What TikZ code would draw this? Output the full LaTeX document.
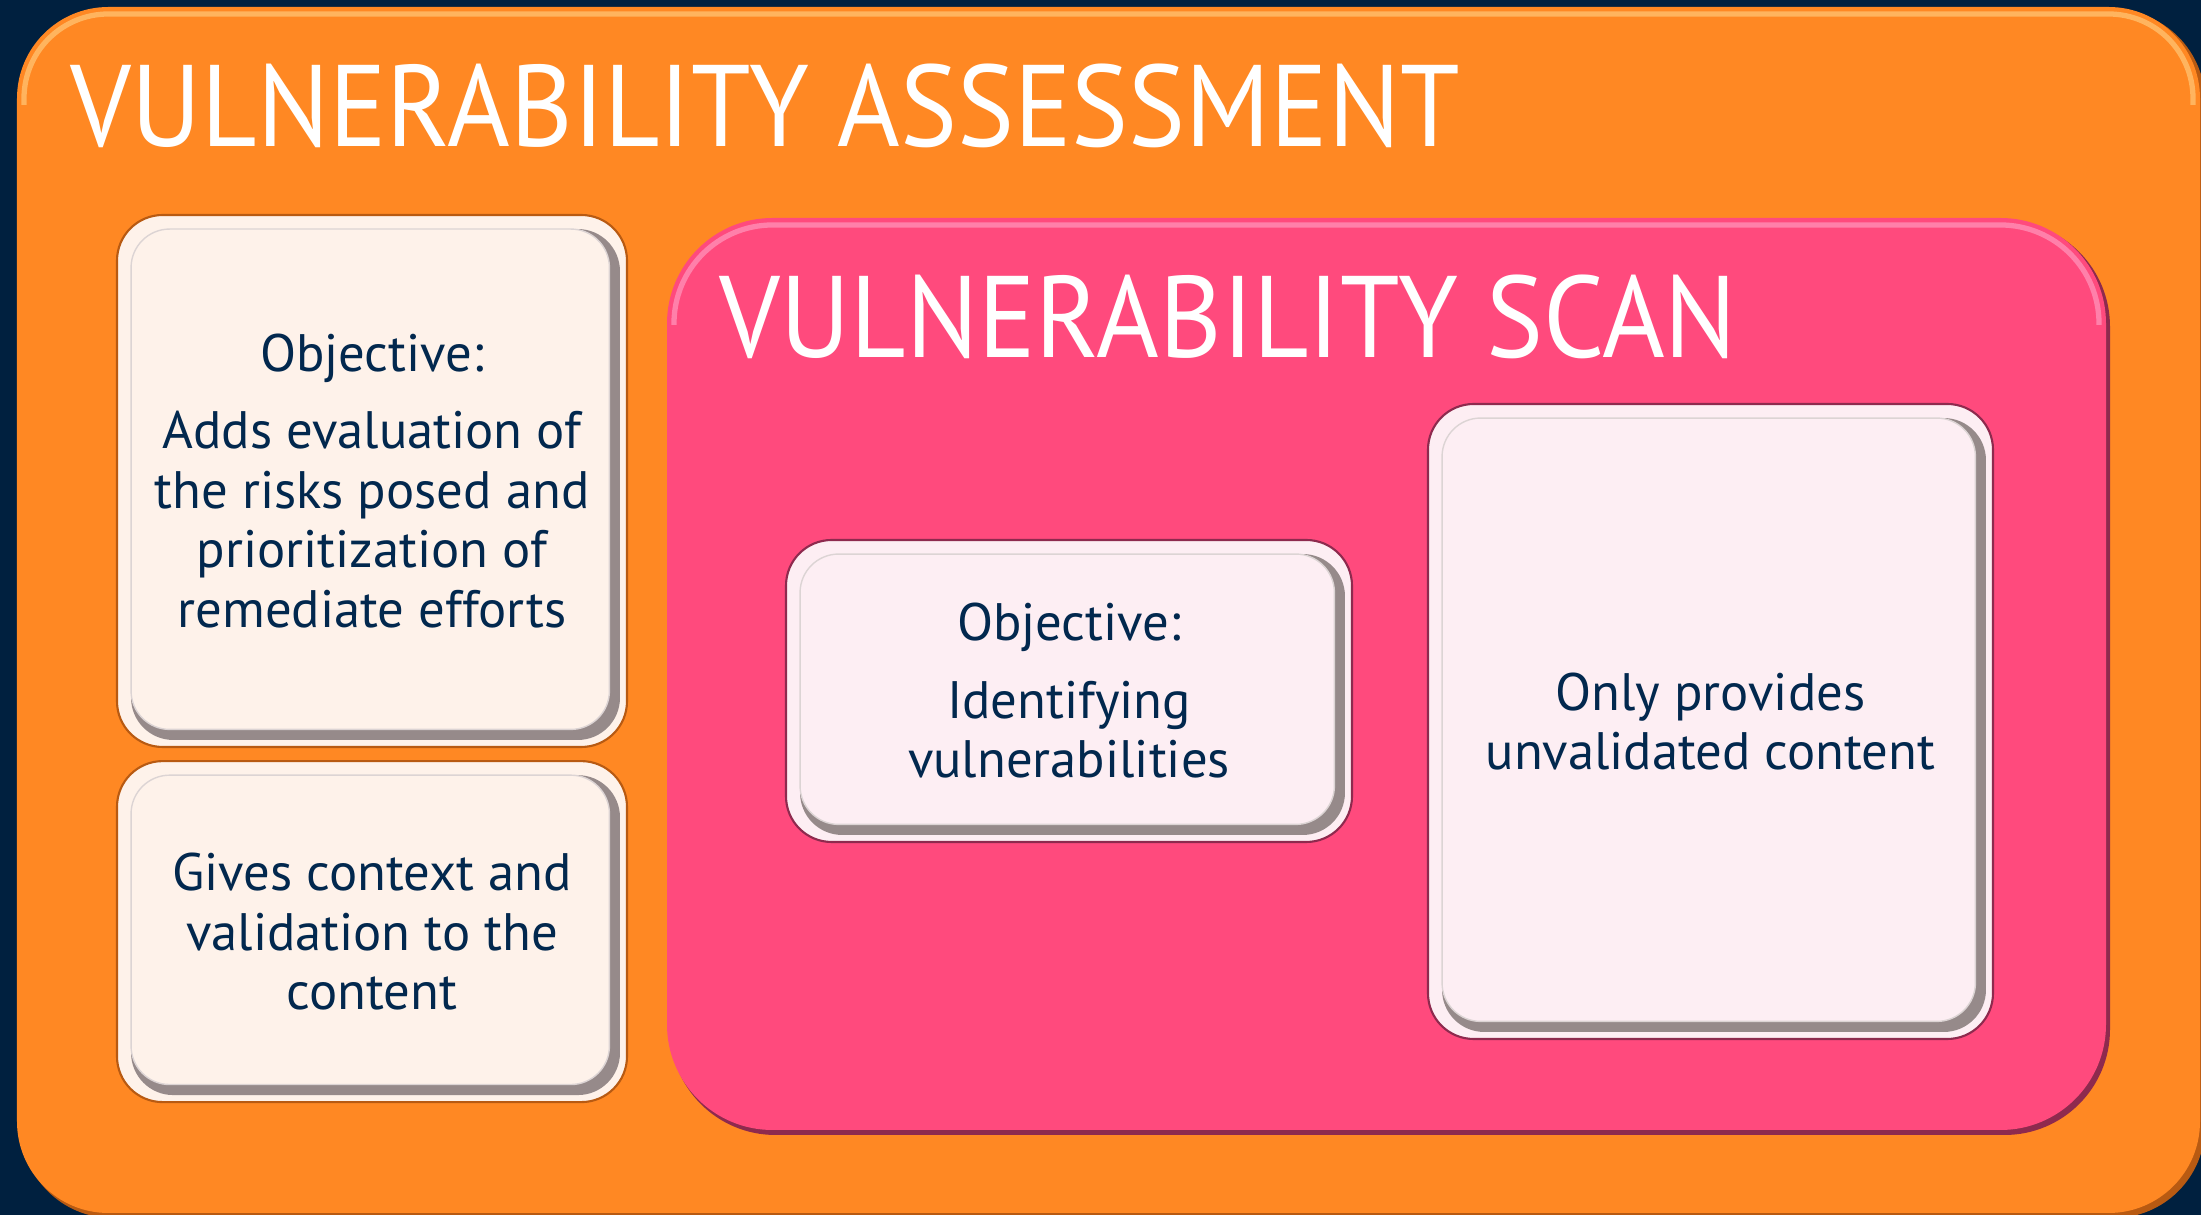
\documentclass[tikz,border=0pt]{standalone}
\usepackage{fontspec}
\setmainfont{PT Sans}
\newfontfamily\headfont{PT Sans}[FakeStretch=0.925]
\usetikzlibrary{calc,positioning}

\definecolor{navybg}{HTML}{00203F}
\definecolor{navytext}{HTML}{02284E}
\definecolor{assessorange}{HTML}{FF8823}
\definecolor{assessedge}{HTML}{B85A12}
\definecolor{assesslight}{HTML}{FFB45E}
\definecolor{scanpink}{HTML}{FF4A7D}
\definecolor{scanedge}{HTML}{8E2A4E}
\definecolor{scanlight}{HTML}{FF80AA}
\definecolor{cardcream}{HTML}{FEF2EA}
\definecolor{cardblush}{HTML}{FDEEF3}
\definecolor{bevelgray}{HTML}{968A8A}
\definecolor{bevelline}{HTML}{DCD4D4}

\tikzset{
  card/.style 2 args={rectangle, rounded corners=13pt, draw=#1, line width=0.6pt, fill=#2,
    text=navytext, align=center, font=\fontsize{15}{17}\selectfont, inner sep=0pt,
    path picture={
      \fill[bevelgray, rounded corners=12pt] ($(path picture bounding box.north west)+(4pt,-4pt)$) rectangle ($(path picture bounding box.south east)+(-2pt,2pt)$);
      \filldraw[fill=#2, draw=bevelline, line width=0.4pt, rounded corners=11pt] ($(path picture bounding box.north west)+(4pt,-4pt)$) rectangle ($(path picture bounding box.south east)+(-5pt,5pt)$);
    }},
  headline/.style={text=white, font=\headfont\fontsize{33}{36}\selectfont, anchor=base west, inner sep=0pt}
}

\begin{document}
\begin{tikzpicture}
    % page
    \fill[navybg] (0,0) rectangle (22.01,12.15);
    \useasboundingbox (0,0) rectangle (22.01,12.15);

    % outer panel: assessment
    \fill[assessedge, rounded corners=26pt] (0.21,-0.03) rectangle (22.05,12.05);
    \fill[assessorange, rounded corners=26pt] (0.17,0.02) rectangle (22.0,12.08);
    \draw[assesslight, line width=1.5pt, rounded corners=24pt] (0.24,11.1) -- (0.24,12.01) -- (21.93,12.01) -- (21.93,11.1);
    \node[headline] (assesstitle) at (0.70,10.68) {VULNERABILITY ASSESSMENT};

    % inner panel: scan
    \fill[scanedge, rounded corners=30pt] (6.70,0.80) rectangle (21.10,9.94);
    \fill[scanpink, rounded corners=30pt] (6.67,0.85) rectangle (21.06,9.97);
    \draw[scanlight, line width=1.5pt, rounded corners=28pt] (6.74,8.9) -- (6.74,9.90) -- (20.99,9.90) -- (20.99,8.9);
    \node[headline] (scantitle) at (7.19,8.57) {VULNERABILITY SCAN};

    % cards
    \node[card={assessedge}{cardcream}, minimum width=5.10cm, minimum height=5.32cm] (objassess) at (3.72,7.34)
        {Objective:\\[5pt]Adds evaluation of\\the risks posed and\\prioritization of\\remediate efforts};
    \node[card={assessedge}{cardcream}, minimum width=5.10cm, minimum height=3.41cm, below=0.12cm of objassess] (context)
        {Gives context and\\validation to the\\content};
    \node[card={scanedge}{cardblush}, minimum width=5.66cm, minimum height=3.02cm] (objscan) at (10.69,5.24)
        {Objective:\\[5pt]Identifying\\vulnerabilities};
    \node[card={scanedge}{cardblush}, minimum width=5.65cm, minimum height=6.35cm] (unvalid) at (17.105,4.935)
        {Only provides\\unvalidated content};
\end{tikzpicture}
\end{document}
